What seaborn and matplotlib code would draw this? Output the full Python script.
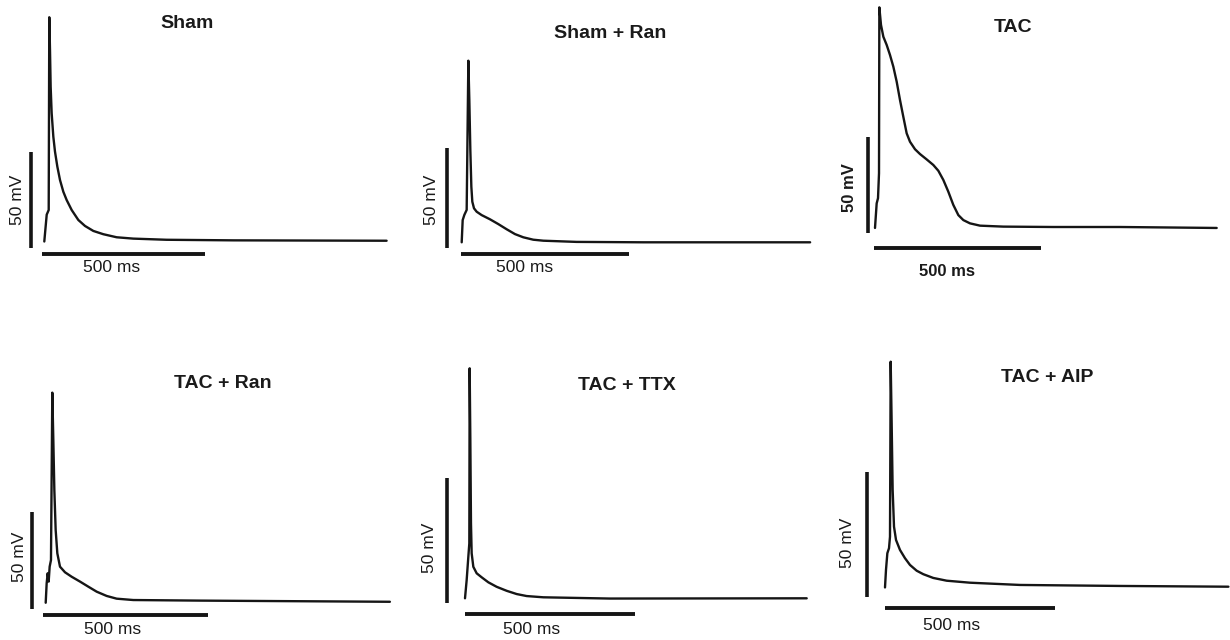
import numpy as np
import pandas as pd
import matplotlib
matplotlib.use("Agg")
import matplotlib.pyplot as plt
import seaborn as sns

sns.set_style("white")
plt.rcParams['font.family'] = ['Liberation Sans', 'DejaVu Sans']

# ---------------- data (time in ms, membrane potential in mV) ----------------
titles = ["Sham", "Sham + Ran", "TAC", "TAC + Ran", "TAC + TTX", "TAC + AIP"]
time_scale_ms = 500
volt_scale_mv = 50
time_label = "500 ms"
volt_label = "50 mV"

sham_t = [0, 7.4, 13.5, 15.3, 17.5, 19.5, 22.6, 27.7, 32.8, 40, 48.2, 58.4, 68.6, 84,
          104.4, 124.8, 150.4, 181, 222, 273, 375, 580, 1050]
sham_v = [-80, -66, -63.6, 36.8, 19.7, 0.6, -13.2, -25.4, -33.2, -41, -48, -54.1, -58.4,
          -63.6, -68.8, -71.9, -74.5, -76.2, -77.8, -78.5, -79.1, -79.4, -79.6]

shamran_t = [0, 2.9, 7.9, 14.8, 19.8, 22.7, 25.7, 28.7, 31.6, 36.6, 44.5, 59.4, 84.2,
             109, 134, 158.6, 183.4, 213, 243, 342, 540, 1037]
shamran_v = [-80, -68.9, -66.3, -63.8, 10.8, -8.8, -33.8, -52.2, -59.7, -63, -64.7,
             -66.4, -68.5, -70.9, -73.5, -75.9, -77.5, -78.7, -79.2, -79.8, -80, -80]

tac_t = [0, 5, 9, 12, 13, 18, 25, 35, 44.9, 54.9, 64.9, 74.9, 84.8, 94.8, 104.8, 119.8,
         134.7, 154.7, 174.6, 189.6, 204.6, 219.5, 234.5, 249.5, 264.5, 284.4, 314.4,
         384, 534, 733.5, 1023]
tac_v = [-80.5, -67.7, -65, -52, 34.4, 25.2, 19.1, 14.8, 9.6, 3.5, -4.3, -13.9, -22.6,
         -31.2, -35.6, -39.5, -42, -44.8, -47.7, -50.7, -55.5, -61.6, -68.5, -73.8,
         -76.4, -78.1, -79.3, -79.8, -80, -80, -80.5]

tacran_t = [0, 2.9, 6, 9, 12, 16, 20, 23.1, 26.2, 30.2, 35.2, 43.3, 58.5, 78.7, 104,
            129, 154.5, 184.8, 215, 265.5, 467.6, 1043]
tacran_v = [-80.9, -70.9, -65.7, -70, -62.3, -58.9, 27.4, 3, -22.8, -43.4, -55.4, -62.3,
            -65.2, -67.5, -70, -72.6, -75.2, -77.4, -78.8, -79.5, -79.8, -80.4]

tacttx_t = [0, 4.9, 9.8, 12.7, 13.7, 15.7, 17.6, 19.6, 24.5, 34.3, 49, 68.6, 93.1,
            122.5, 152, 181.4, 230.4, 426, 1005]
tacttx_v = [-80, -72.7, -63.4, -58, 12, -16.7, -50, -62, -67.4, -70, -71.6, -73.6,
            -75.4, -77, -78.3, -79.1, -79.6, -80.1, -80]

tacaip_t = [0, 2.9, 6.9, 11.8, 14.7, 16.7, 19.6, 22.5, 26.5, 32.4, 44.1, 58.8, 73.5,
            93.1, 112.7, 142, 181.4, 250, 397, 691, 1010]
tacaip_v = [-80.3, -73.3, -66.6, -64.6, -60, 10, -14.6, -41.3, -56, -61.3, -65.3, -68.6,
            -71.3, -73.6, -75, -76.5, -77.6, -78.4, -79.3, -79.7, -80]

traces = [(sham_t, sham_v), (shamran_t, shamran_v), (tac_t, tac_v),
          (tacran_t, tacran_v), (tacttx_t, tacttx_v), (tacaip_t, tacaip_v)]

# ---------------- layout (pixels in a 1230x640 canvas) ----------------
W, H = 1230, 640
# origin x px, resting-level y px, px per ms, px per mV
mapping = [(44.3, 241.5, 0.326, 1.92), (461.7, 242.3, 0.336, 2.0), (875, 227, 0.334, 1.92),
           (45.7, 601, 0.33, 1.94), (465, 598.3, 0.34, 2.5), (885, 586.7, 0.34, 2.5)]
# vertical bar (t, bottom V), horizontal bar (t start, V)
bars = [(-41, -83.4, -7, -86.5), (-44, -82.9, -2, -85.9), (-21, -83.1, -3, -91),
        (-41.5, -84.1, -8, -87.2), (-53, -81.9, 0, -86.3), (-53, -84.1, 0, -88.5)]
# text centres in px: title, time label, voltage label
text_pos = [((187, 23), (112, 268), (18, 200)),
            ((610, 33), (525, 268), (432, 200)),
            ((1013, 27), (947, 271), (850, 188)),
            ((223, 383), (113, 629), (20, 557)),
            ((627, 385), (532, 630), (430, 548)),
            ((1047, 378), (952, 625), (848, 543))]
rest_v = -80

fig = plt.figure(figsize=(W / 100, H / 100), dpi=100)
ink = "#151515"

for i, ((t, v), (x0, yr, sx, sy), (vb_t, vb_v, hb_t, hb_v), (tp, lp, vp)) in enumerate(
        zip(traces, mapping, bars, text_pos)):
    col, row = i % 3, i // 3
    L, T = col * 410, row * 320
    Wb, Hb = 410, 320
    ax = fig.add_axes([L / W, 1 - (T + Hb) / H, Wb / W, Hb / H])
    df = pd.DataFrame({"t": t, "v": v})
    sns.lineplot(data=df, x="t", y="v", ax=ax, color=ink, lw=1.7,
                 estimator=None, sort=False, legend=False)
    # scale bars
    ax.plot([vb_t, vb_t], [vb_v, vb_v + volt_scale_mv], color=ink, lw=2.6,
            solid_capstyle="butt", clip_on=False)
    ax.plot([hb_t, hb_t + time_scale_ms], [hb_v, hb_v], color=ink, lw=2.8,
            solid_capstyle="butt", clip_on=False)
    ax.set_xlim((L - x0) / sx, (L + Wb - x0) / sx)
    ax.set_ylim(rest_v - (T + Hb - yr) / sy, rest_v + (yr - T) / sy)
    ax.axis("off")
    for line in ax.lines:
        line.set_clip_on(False)
        line.set_solid_joinstyle("round")

    bold_labels = "bold" if titles[i] == "TAC" else "normal"
    lab_size = 12 if titles[i] == "TAC" else 12.5
    fig.text(tp[0] / W, 1 - tp[1] / H, titles[i], ha="center", va="center",
             fontsize=14, fontweight="bold", color="#1a1a1a")
    fig.text(lp[0] / W, 1 - lp[1] / H, time_label, ha="center", va="center",
             fontsize=lab_size, fontweight=bold_labels, color="#1a1a1a")
    fig.text(vp[0] / W, 1 - vp[1] / H, volt_label, ha="center", va="center",
             rotation=90, fontsize=lab_size, fontweight=bold_labels, color="#1a1a1a")

fig.savefig("out.png", dpi=100, facecolor="white")
